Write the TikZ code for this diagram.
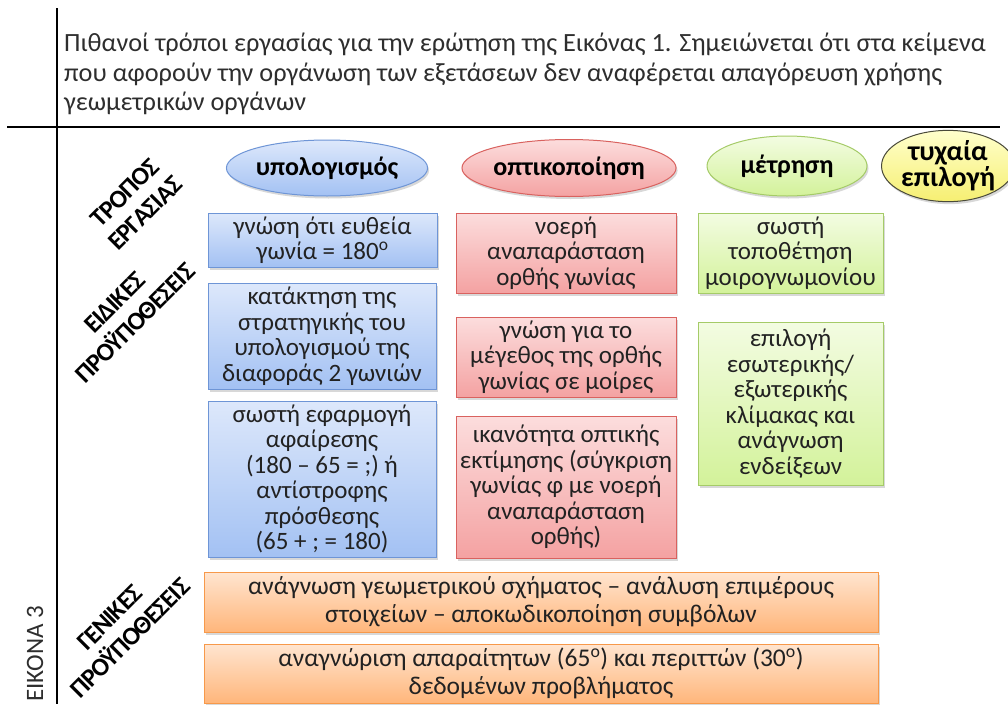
\documentclass[tikz,border=0pt]{standalone}
\usepackage{fontspec}
\setmainfont{Carlito}
\newfontfamily\labelfont[LetterSpace=-3]{Carlito}
\usetikzlibrary{shapes.geometric,shadows,shadings}
\definecolor{bluetop}{HTML}{DDE8FB}
\definecolor{bluebot}{HTML}{A3C1F3}
\definecolor{blueline}{HTML}{6E95D6}
\definecolor{redtop}{HTML}{FCDDDD}
\definecolor{redbot}{HTML}{F4A2A2}
\definecolor{redline}{HTML}{D9625F}
\definecolor{greentop}{HTML}{F3FCE2}
\definecolor{greenbot}{HTML}{D3F29A}
\definecolor{greenline}{HTML}{A5CB68}
\definecolor{orangetop}{HTML}{FFE5D0}
\definecolor{orangebot}{HTML}{FFB67B}
\definecolor{orangeline}{HTML}{F7994A}
\definecolor{yellowtop}{HTML}{FFFFCC}
\definecolor{yellowbot}{HTML}{F6EF72}
\definecolor{yellowline}{HTML}{4A4A3A}
\definecolor{txt}{HTML}{222222}
\definecolor{headtxt}{HTML}{2E2E2E}
\begin{document}
\begin{tikzpicture}[x=1pt,y=-1pt,
  boxbase/.style={draw, line width=1pt, align=center, inner sep=0pt, text=txt,
    font=\fontsize{25}{25.5}\selectfont,
    drop shadow={shadow xshift=1.5pt,shadow yshift=-2.5pt,opacity=0.3}},
  bluebox/.style={boxbase, draw=blueline, top color=bluetop, bottom color=bluebot},
  redbox/.style={boxbase, draw=redline, top color=redtop, bottom color=redbot},
  greenbox/.style={boxbase, draw=greenline, top color=greentop, bottom color=greenbot},
  orangebox/.style={boxbase, draw=orangeline, top color=orangetop, bottom color=orangebot,
    font=\fontsize{25.5}{28}\selectfont},
  ellbase/.style={ellipse, draw, line width=1pt, inner sep=0pt, align=center, text=black,
    font=\fontsize{26}{24}\selectfont\bfseries,
    drop shadow={shadow xshift=1.5pt,shadow yshift=-2.5pt,opacity=0.3}},
  sidelabel/.style={rotate=45, align=center, text=black, inner sep=0pt,
    font=\labelfont\fontsize{25.5}{29}\selectfont\bfseries}
]
\useasboundingbox (0,0) rectangle (1008,704);
\fill[white] (0,0) rectangle (1008,704);

% frame lines
\coordinate (vtop) at (57,8);
\coordinate (vbot) at (57,704);
\coordinate (hl) at (7,127);
\coordinate (hr) at (1000,127);
\draw[line width=1.6pt] (vtop) -- (vbot);
\draw[line width=2.6pt] (hl) -- (hr);

% header
\node[anchor=north west, align=left, inner sep=0pt, text=headtxt,
  font=\fontsize{26.3}{29.5}\selectfont] (head) at (64,33)
  {Πιθανοί τρόποι εργασίας για την ερώτηση της Εικόνας 1. Σημειώνεται ότι στα κείμενα\\
   που αφορούν την οργάνωση των εξετάσεων δεν αναφέρεται απαγόρευση χρήσης\\
   γεωμετρικών οργάνων};

% figure label
\node[rotate=90, inner sep=0pt, text=headtxt, font=\fontsize{25}{25}\selectfont] (fig) at (35,654) {ΕΙΚΟΝΑ 3};

% side labels
\node[sidelabel] (l1) at (135,203) {ΤΡΟΠΟΣ\\ΕΡΓΑΣΙΑΣ};
\node[sidelabel] (l2) at (125,313) {ΕΙΔΙΚΕΣ\\ΠΡΟΫΠΟΘΕΣΕΙΣ};
\node[sidelabel] (l3) at (120,628) {ΓΕΝΙΚΕΣ\\ΠΡΟΫΠΟΘΕΣΕΙΣ};

% ellipses
\node[ellbase, draw=blueline, top color=bluetop, bottom color=bluebot,
  minimum width=200pt, minimum height=56pt] (e1) at (327,168) {υπολογισμός};
\node[ellbase, draw=redline, top color=redtop, bottom color=redbot,
  minimum width=212pt, minimum height=57pt] (e2) at (569,168) {οπτικοποίηση};
\node[ellbase, draw=greenline, top color=greentop, bottom color=greenbot,
  minimum width=160pt, minimum height=60pt] (e3) at (787,166) {μέτρηση};
\node[ellbase, draw=yellowline, top color=yellowtop, bottom color=yellowbot,
  minimum width=118pt, minimum height=57pt, font=\fontsize{28}{26}\selectfont\bfseries] (e4) at (948,166) {τυχαία\\επιλογή};

% blue column
\node[bluebox, minimum width=229pt, minimum height=54pt] (b1) at (322.5,240)
  {γνώση ότι ευθεία\\γωνία = 180\textsuperscript{ο}};
\node[bluebox, minimum width=228pt, minimum height=106pt] (b2) at (322,336)
  {κατάκτηση της\\στρατηγικής του\\υπολογισμού της\\διαφοράς 2 γωνιών};
\node[bluebox, minimum width=228pt, minimum height=156pt] (b3) at (322,479)
  {σωστή εφαρμογή\\αφαίρεσης\\(180 – 65 = ;) ή\\αντίστροφης\\πρόσθεσης\\(65 + ; = 180)};

% red column
\node[redbox, minimum width=220pt, minimum height=80pt] (r1) at (566,253)
  {νοερή\\αναπαράσταση\\ορθής γωνίας};
\node[redbox, minimum width=220pt, minimum height=80pt] (r2) at (566,357)
  {γνώση για το\\μέγεθος της ορθής\\γωνίας σε μοίρες};
\node[redbox, minimum width=220pt, minimum height=142pt] (r3) at (566,487)
  {ικανότητα οπτικής\\εκτίμησης (σύγκριση\\γωνίας φ με νοερή\\αναπαράσταση\\ορθής)};

% green column
\node[greenbox, minimum width=185pt, minimum height=80pt] (g1) at (790.5,253)
  {σωστή\\τοποθέτηση\\μοιρογνωμονίου};
\node[greenbox, minimum width=185pt, minimum height=163pt] (g2) at (790.5,403.5)
  {επιλογή\\εσωτερικής/\\εξωτερικής\\κλίμακας και\\ανάγνωση\\ενδείξεων};

% general prerequisites
\node[orangebox, minimum width=674pt, minimum height=60pt] (o1) at (541,602)
  {ανάγνωση γεωμετρικού σχήματος – ανάλυση επιμέρους\\στοιχείων – αποκωδικοποίηση συμβόλων};
\node[orangebox, minimum width=674pt, minimum height=59pt] (o2) at (541,673.5)
  {αναγνώριση απαραίτητων (65\textsuperscript{ο}) και περιττών (30\textsuperscript{ο})\\δεδομένων προβλήματος};
\end{tikzpicture}
\end{document}
